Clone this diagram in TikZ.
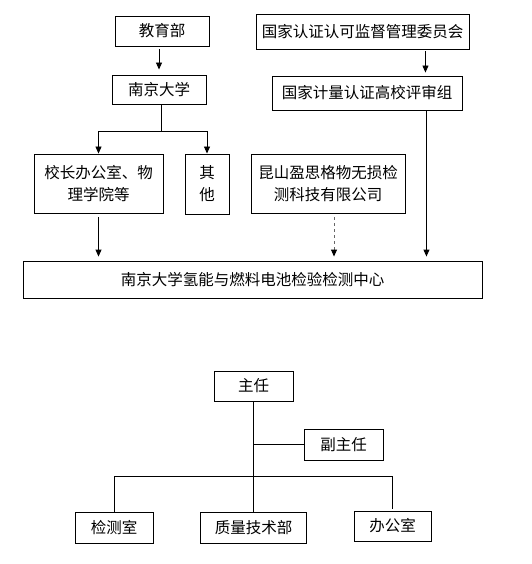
\documentclass[tikz,border=0pt]{standalone}
\usepackage{fontspec}
\setmainfont{Noto Sans CJK SC}
\usetikzlibrary{arrows.meta,calc}
\begin{document}
\begin{tikzpicture}[x=1pt,y=-1pt,
  box/.style={draw,line width=0.9pt,inner sep=0pt,align=center,font=\fontsize{15.5}{22}\selectfont},
  arr/.style={line width=0.9pt,-{Triangle[length=7pt,width=6pt]}},
  ln/.style={line width=0.9pt}]
\useasboundingbox (0,0) rectangle (531,564);
\fill[white] (0,0) rectangle (531,564);
% top part
\node[box,minimum width=94,minimum height=30] (jyb) at (162,31) {教育部};
\node[box,minimum width=213,minimum height=35] (rzw) at (362.5,31.5) {国家认证认可监督管理委员会};
\node[box,minimum width=94,minimum height=29] (njdx) at (159,89.5) {南京大学};
\node[box,minimum width=190,minimum height=34] (psz) at (367,93) {国家计量认证高校评审组};
\node[box,minimum width=129,minimum height=59] (xz) at (98.5,183.5) {校长办公室、物\\理学院等};
\node[box,minimum width=44,minimum height=60] (qt) at (207,184) {其\\他};
\node[box,minimum width=154,minimum height=59] (ks) at (328,183.5) {昆山盈思格物无损检\\测科技有限公司};
\node[box,minimum width=459,minimum height=37] (zx) at (252.5,279.5) {南京大学氢能与燃料电池检验检测中心};
% connectors top
\draw[arr,shorten <=3pt,shorten >=5pt] (njdx.north |- jyb.south) -- (njdx.north);
\coordinate (r1) at ($(psz.north east)+(-37,0)$);
\draw[arr,shorten <=2pt,shorten >=3pt] (r1 |- rzw.south) -- (r1);
\draw[ln] ([xshift=2pt]njdx.south) -- ++(0,27) coordinate (j);
\draw[arr] (j) -| (xz.north);
\draw[arr] (j) -| (qt.north);
\draw[arr,shorten <=4pt,shorten >=4pt] (xz.south) -- (xz.south |- zx.north);
\coordinate (k1) at ($(ks.south)+(6,0)$);
\draw[line width=0.9pt,draw=black!60,dash pattern=on 3pt off 3pt,-{Triangle[length=7pt,width=6pt,fill=black,color=black]},shorten <=4pt,shorten >=4pt] (k1) -- (k1 |- zx.north);
\coordinate (p1) at ($(psz.south east)+(-36,0)$);
\draw[arr,shorten >=4pt] (p1) -- (p1 |- zx.north);
% bottom part
\node[box,minimum width=79,minimum height=30] (zr) at (253.5,386) {主任};
\node[box,minimum width=79,minimum height=31] (fzr) at (343.5,444.5) {副主任};
\node[box,minimum width=78,minimum height=31] (jcs) at (114,527.5) {检测室};
\node[box,minimum width=106,minimum height=31] (zl) at (253.5,527.5) {质量技术部};
\node[box,minimum width=77,minimum height=30] (bgs) at (392.5,526) {办公室};
\draw[ln] (zr.south) -- (zl.north);
\draw[ln] (zr.south |- fzr.west) -- (fzr.west);
\draw[ln,shorten >=2pt] (jcs.north) -- ++(0,-35) -| (bgs.north);
\end{tikzpicture}
\end{document}
